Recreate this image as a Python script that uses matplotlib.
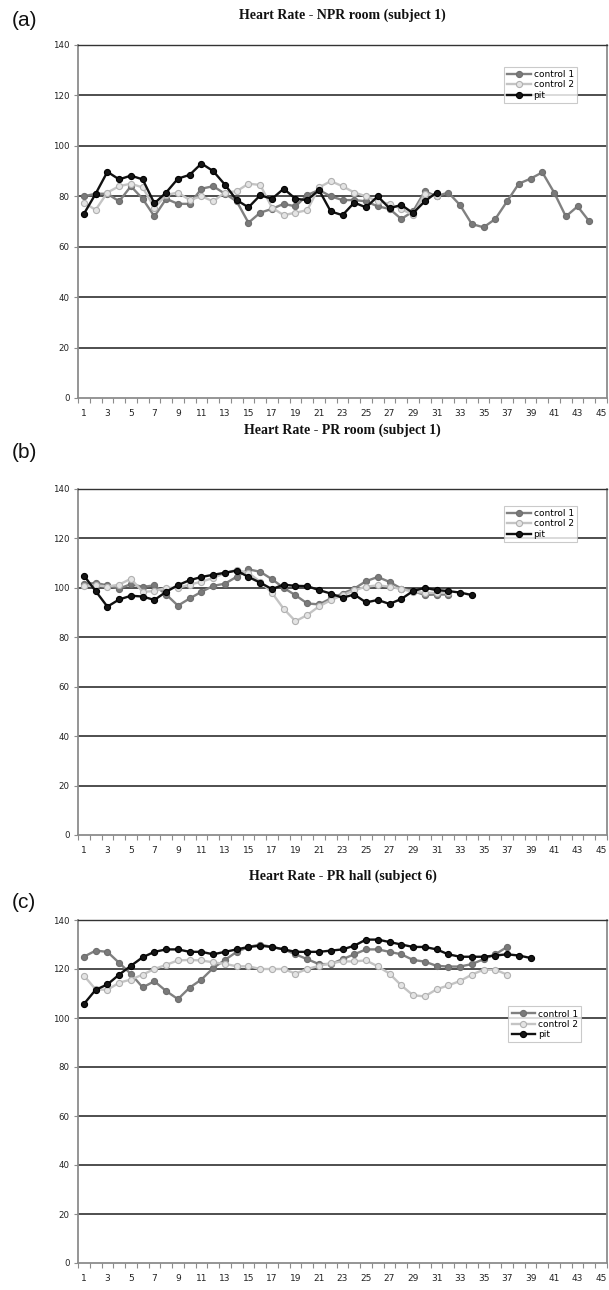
import matplotlib
matplotlib.use('Agg')
import matplotlib.pyplot as plt
from matplotlib.ticker import FixedLocator

# values (beats per minute, per sample)
a_control1 = [80, 81, 81, 78, 84, 79, 72, 79, 77, 77, 83, 84, 81, 78, 69.5, 73.5, 75, 77, 76, 80.5,
              82.5, 80, 78.5, 78.5, 78, 76, 75, 71, 74, 82, 80, 81.5, 76.5, 69, 67.7, 71, 78, 85,
              87, 89.5, 81.5, 72, 76, 70]
a_control2 = [77.5, 74.6, 81.5, 84, 85, 83.5, 75.5, 80.5, 81.5, 78.5, 80, 78, 81.5, 82, 85, 84.5,
              75.5, 72.5, 73.5, 74.5, 83.5, 86, 84, 81.5, 80, 78, 77, 75, 72.5, 81, 80]
a_pit = [73, 81, 89.7, 86.7, 88.2, 86.7, 77.2, 81.5, 87, 88.5, 93, 90, 84.6, 78.5, 75.6, 80.4,
         79, 83, 79, 78.5, 82.5, 74, 72.5, 77.5, 75.6, 80, 75.2, 76.6, 73.3, 78, 81.5]

b_control1 = [101.5, 102, 101, 99.7, 101.5, 100.4, 101, 97.3, 92.8, 95.7, 98.4, 100.8, 101.7,
              104.5, 107.5, 106.5, 103.5, 100, 97, 93.7, 93.3, 95.7, 97.7, 99.7, 102.7, 104.4,
              102.4, 99.7, 98.7, 97.1, 97.3, 97.3]
b_control2 = [100.8, 101, 100.5, 101.3, 103.7, 98.4, 98.7, 100, 100, 101.3, 102.5, 104, 106,
              107.3, 106, 102.5, 98, 91.5, 86.5, 89, 92.5, 95, 97, 99, 100.5, 101, 100.5, 99.5,
              98.5, 98, 98, 98]
b_pit = [105, 98.7, 92.4, 95.3, 96.8, 96.5, 95.1, 98.4, 101.1, 103.1, 104.4, 105.3, 106.1, 107,
         104.4, 102.1, 99.5, 101.3, 100.8, 100.7, 99.1, 97.7, 96, 97.3, 94.1, 95.1, 93.5, 95.5,
         98.7, 100, 99.1, 98.7, 98.1, 97.1]

c_control1 = [125, 127.5, 127, 122.5, 118, 112.5, 115, 111, 107.7, 112.4, 115.7, 120.4, 123.7,
              127, 129, 130, 129, 128, 126, 124, 122, 122, 124, 126, 128, 128, 127, 126, 123.7,
              123, 121.3, 121, 121, 122, 124, 126, 129]
c_control2 = [117.3, 111.7, 111.5, 114.4, 115.7, 117.7, 120, 121.7, 123.5, 123.7, 123.5, 122.7,
              122.1, 121.1, 121.1, 120, 120, 120, 118.1, 120, 121.3, 122.4, 123.1, 123.1, 123.5,
              121.1, 118.1, 113.3, 109.3, 108.8, 111.7, 113.3, 115.1, 117.7, 119.7, 119.7, 117.7]
c_pit = [105.7, 111.5, 113.7, 117.7, 121.3, 124.8, 127, 128, 128, 127, 127, 126, 127, 128, 129,
         129.5, 129, 128, 127, 127, 127, 127.5, 128, 129.5, 132, 132, 131, 130, 129, 129, 128,
         126, 125, 125, 125, 125.5, 126, 125.5, 124.5]

titles = ['Heart Rate - NPR room (subject 1)',
          'Heart Rate - PR room (subject 1)',
          'Heart Rate - PR hall (subject 6)']
panel_labels = ['(a)', '(b)', '(c)']
series_names = ['control 1', 'control 2', 'pit']
n_cats = 45
y_ticks = [0, 20, 40, 60, 80, 100, 120, 140]

W, H = 609, 1290
fig = plt.figure(figsize=(W / 100, H / 100), dpi=100)
fig.patch.set_facecolor('white')


def px_axes(left, top, right, bottom):
    return fig.add_axes([left / W, 1 - bottom / H, (right - left) / W, (bottom - top) / H])


styles = [
    dict(color='#808080', mfc='#7a7a7a', mec='#6e6e6e'),
    dict(color='#c4c4c4', mfc='#e4e4e4', mec='#b0b0b0'),
    dict(color='#111111', mfc='#151515', mec='#000000'),
]

# axes boxes in pixels: left, top (140 line), right, bottom (0 line)
boxes = [(78, 45, 607, 398), (78, 489, 607, 835), (78, 920, 607, 1263)]
title_y = [15, 430, 876]
label_y = [21, 452, 903]
legend_anchor = [(0.943, 0.938), (0.943, 0.951), (0.951, 0.748)]
data = [(a_control1, a_control2, a_pit),
        (b_control1, b_control2, b_pit),
        (c_control1, c_control2, c_pit)]

for k in range(3):
    l, t, r, b = boxes[k]
    ax = px_axes(l, t, r, b)
    for vals, name, st in zip(data[k], series_names, styles):
        xs = list(range(1, len(vals) + 1))
        ax.plot(xs, vals, '-o', color=st['color'], lw=1.7, ms=4.4,
                mfc=st['mfc'], mec=st['mec'], mew=0.8, label=name)

    ax.set_xlim(0.5, n_cats + 0.5)
    ax.set_ylim(0, 140)
    ax.set_yticks(y_ticks)
    ax.set_yticklabels([str(v) for v in y_ticks])
    ax.set_xticks(list(range(1, n_cats + 1, 2)))
    ax.set_xticklabels([str(v) for v in range(1, n_cats + 1, 2)])
    ax.xaxis.set_minor_locator(FixedLocator([i + 0.5 for i in range(n_cats + 1)]))
    ax.tick_params(axis='x', which='major', length=0, pad=8, labelsize=6.5, colors='#222222')
    ax.tick_params(axis='x', which='minor', length=3.5, width=0.8, color='#8c8c8c', direction='out')
    ax.tick_params(axis='y', length=3, width=0.8, color='#8c8c8c', pad=3, labelsize=6.2,
                   labelcolor='#222222')
    for yv in y_ticks[1:-1]:
        ax.axhline(yv, color='#1e1e1e', lw=1.1, zorder=0)
    for side in ['left', 'right', 'bottom']:
        ax.spines[side].set_color('#8c8c8c')
        ax.spines[side].set_linewidth(1.3)
    ax.spines['top'].set_color('#333333')
    ax.spines['top'].set_linewidth(1.0)

    leg = ax.legend(loc='upper right', bbox_to_anchor=legend_anchor[k], borderaxespad=0,
                    fontsize=6.5, frameon=True, fancybox=False, handlelength=2.6,
                    handletextpad=0.3, borderpad=0.35, labelspacing=0.15)
    leg.get_frame().set_edgecolor('#bdbdbd')
    leg.get_frame().set_linewidth(0.8)

    # title and panel letter
    fig.text((l + r) / 2 / W, 1 - title_y[k] / H, titles[k], ha='center', va='center',
             fontsize=10, fontweight='bold', family='Liberation Serif', color='#111111')
    fig.text(12 / W, 1 - label_y[k] / H, panel_labels[k], ha='left', va='center',
             fontsize=15, family='Liberation Sans', color='#111111')

fig.savefig('out.png', dpi=100, facecolor='white')
